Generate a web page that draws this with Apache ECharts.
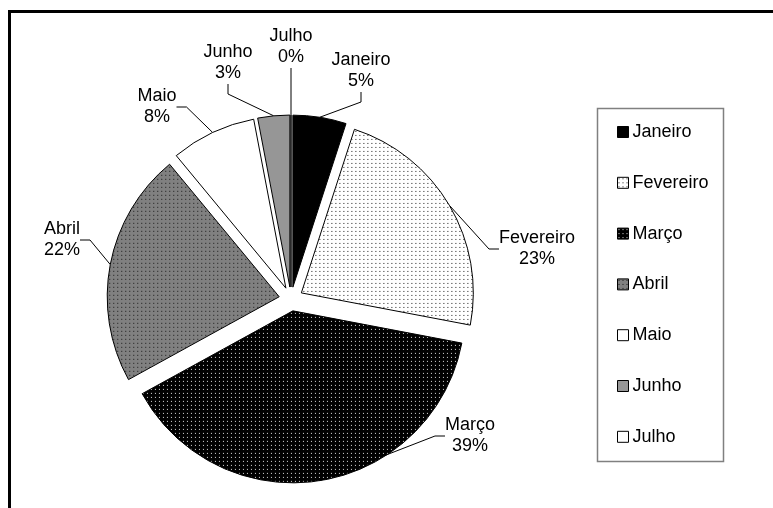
<!DOCTYPE html>
<html>
<head>
	<meta charset="utf-8">
	<title>Pie</title>
	<script src="https://cdn.jsdelivr.net/npm/echarts@6/dist/echarts.min.js"></script>
	<style>
		body { margin: 0; background: #fff; }
	</style>
</head>
<body>
	<div id="main" style="width: 773px;height:508px;"></div>
	<script type="text/javascript">
	var meses = ['Janeiro', 'Fevereiro', 'Março', 'Abril', 'Maio', 'Junho', 'Julho'];
	var valores = [5, 23, 39, 22, 8, 3, 0];

	// label anchors (layout only)
	var labelXY = [[361, 71], [537, 249], [470, 436], [62, 240], [157, 107], [228, 63], [291, 47]];

	// dotted fills like the excel patterns
	function pattern(bg, dot) {
		var c = document.createElement('canvas');
		c.width = 4;
		c.height = 4;
		var ctx = c.getContext('2d');
		ctx.fillStyle = bg;
		ctx.fillRect(0, 0, 4, 4);
		ctx.fillStyle = dot;
		ctx.fillRect(1, 1, 1, 1);
		return { image: c, repeat: 'repeat' };
	}

	var fills = [
		'#000000',
		pattern('#ffffff', '#222222'),
		pattern('#000000', '#e0e0e0'),
		pattern('#808080', '#1a1a1a'),
		'#ffffff',
		'#969696',
		'#ffffff'
	];

	var data = meses.map(function(m, i) {
		return {
			name: m,
			value: valores[i],
			selected: true,
			itemStyle: { color: fills[i] }
		};
	});

	var labelData = meses.map(function(m, i) {
		return { name: m, value: valores[i] };
	});

	var font = '"Liberation Sans", Arial, sans-serif';
	var myChart = echarts.init(document.getElementById('main'));

	var option = {
		animation: false,
		graphic: [{
			type: 'rect',
			shape: { x: 9.5, y: 11.5, width: 1000, height: 1000 },
			style: { fill: 'none', stroke: '#000', lineWidth: 3 },
			silent: true
		}, {
			type: 'rect',
			shape: { x: 597.5, y: 108.5, width: 126, height: 353 },
			style: { fill: '#fff', stroke: '#808080', lineWidth: 1.5 },
			silent: true,
			z: -1
		}],
		legend: {
			orient: 'vertical',
			left: 617,
			top: 123,
			padding: 0,
			itemWidth: 11,
			itemHeight: 11,
			itemGap: 32.8,
			icon: 'rect',
			selectedMode: false,
			data: meses,
			itemStyle: { borderColor: '#000', borderWidth: 1 },
			textStyle: {
				fontFamily: font,
				fontSize: 18,
				lineHeight: 18,
				color: '#000',
				padding: [0, 0, 0, -1]
			}
		},
		series: [{
			name: 'Meses',
			type: 'pie',
			center: [291, 299],
			radius: 172,
			startAngle: 90,
			clockwise: true,
			selectedMode: 'multiple',
			selectedOffset: 12,
			emphasis: { disabled: true },
			itemStyle: { borderColor: '#000', borderWidth: 1 },
			label: { show: false },
			labelLine: { show: false },
			data: data
		}, {
			// invisible copy that only carries the data labels
			name: 'Rotulos',
			type: 'pie',
			center: [291, 299],
			radius: 184,
			startAngle: 90,
			clockwise: true,
			silent: true,
			avoidLabelOverlap: false,
			percentPrecision: 0,
			z: 1,
			emphasis: { disabled: true },
			itemStyle: { color: 'rgba(0,0,0,0)', borderWidth: 0 },
			label: {
				show: true,
				position: 'outside',
				formatter: '{b}\n{d}%',
				fontFamily: font,
				fontSize: 18,
				lineHeight: 21,
				color: '#000',
				align: 'center'
			},
			labelLine: {
				show: true,
				length: 10,
				length2: 10,
				lineStyle: { color: '#000', width: 1 }
			},
			labelLayout: function(params) {
				var p = labelXY[params.dataIndex];
				return { x: p[0], y: p[1], align: 'center', verticalAlign: 'middle' };
			},
			data: labelData
		}]
	};

	myChart.setOption(option);
	</script>
</body>
</html>
